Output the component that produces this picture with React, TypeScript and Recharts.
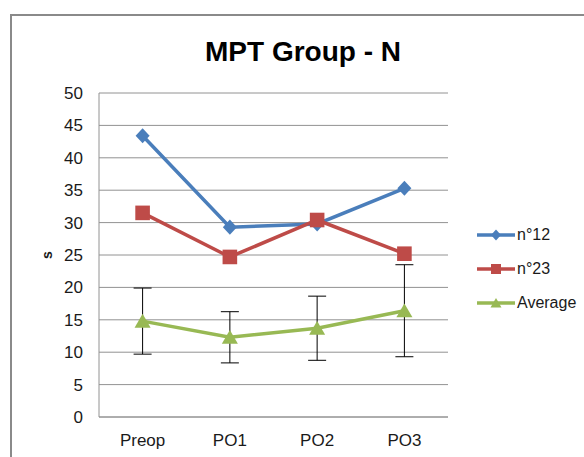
import React from "react";
import { LineChart, Line, XAxis, YAxis, CartesianGrid, ErrorBar } from "recharts";

const CATEGORIES = ["Preop", "PO1", "PO2", "PO3"];
const N12 = [43.4, 29.3, 29.8, 35.3];
const N23 = [31.5, 24.7, 30.4, 25.2];
const AVERAGE = [14.8, 12.3, 13.7, 16.4];
const AVERAGE_ERR = [5.1, 3.95, 4.95, 7.1];
const Y_TICKS = [0, 5, 10, 15, 20, 25, 30, 35, 40, 45, 50];

const BLUE = "#4a7ebb";
const RED = "#be4b48";
const GREEN = "#98b954";
const FONT = "'Liberation Sans', Arial, sans-serif";

const data = CATEGORIES.map((name, i) => ({
  name,
  n12: N12[i],
  n23: N23[i],
  avg: AVERAGE[i],
  avgErr: AVERAGE_ERR[i],
}));

type Shape = "diamond" | "square" | "triangle";

function markerPath(shape: Shape, cx: number, cy: number, s: number) {
  if (shape === "diamond") {
    return `M${cx},${cy - s * 1.08}L${cx + s},${cy}L${cx},${cy + s * 1.08}L${cx - s},${cy}Z`;
  }
  if (shape === "square") {
    return `M${cx - s},${cy - s}H${cx + s}V${cy + s}H${cx - s}Z`;
  }
  return `M${cx},${cy - s}L${cx + s * 1.1},${cy + s * 0.9}L${cx - s * 1.1},${cy + s * 0.9}Z`;
}

const makeDot = (shape: Shape, color: string, size: number) => (props: any) => {
  const { cx, cy, index } = props;
  if (cx == null || cy == null) return <g key={`d-${index}`} />;
  return <path key={`d-${shape}-${index}`} d={markerPath(shape, cx, cy, size)} fill={color} stroke="none" />;
};

const SERIES = [
  { name: "n°12", color: BLUE, shape: "diamond" as Shape },
  { name: "n°23", color: RED, shape: "square" as Shape },
  { name: "Average", color: GREEN, shape: "triangle" as Shape },
];

function ChartLegend() {
  return (
    <div style={{ position: "absolute", left: 474, top: 218, fontFamily: FONT, fontSize: 16, color: "#1a1a1a" }}>
      {SERIES.map((s) => (
        <div key={s.name} style={{ display: "flex", alignItems: "center", height: 34 }}>
          <svg width={43} height={16} style={{ display: "block" }}>
            <line x1={3} y1={8} x2={41} y2={8} stroke={s.color} strokeWidth={3.5} />
            <path d={markerPath(s.shape, 22, 8, 5)} fill={s.color} />
          </svg>
          <span>{s.name}</span>
        </div>
      ))}
    </div>
  );
}

export default function App() {
  return (
    <div style={{ position: "absolute", left: 0, top: 0, width: 584, height: 457, overflow: "hidden", background: "#fff" }}>
      <div
        style={{
          position: "absolute",
          left: 10,
          top: 14,
          width: 700,
          height: 600,
          borderLeft: "2px solid #8a8a8a",
          borderTop: "2px solid #8a8a8a",
        }}
      />
      <div
        style={{
          position: "absolute",
          left: 0,
          width: 606,
          top: 38,
          textAlign: "center",
          fontFamily: FONT,
          fontWeight: "bold",
          fontSize: 28,
          lineHeight: "28px",
          color: "#000",
        }}
      >
        MPT Group - N
      </div>
      <div style={{ position: "absolute", left: 0, top: 0 }}>
        <LineChart width={584} height={457} data={data} margin={{ top: 93, right: 136, bottom: 10, left: 39 }}>
          <CartesianGrid vertical={false} stroke="#929292" />
          <XAxis
            dataKey="name"
            height={30}
            padding={{ left: 43.6, right: 43.6 }}
            tickLine={false}
            tickSize={0}
            tickMargin={17}
            axisLine={{ stroke: "#929292" }}
            tick={{ fontFamily: FONT, fontSize: 17, fill: "#1a1a1a" }}
          />
          <YAxis
            width={60}
            domain={[0, 50]}
            ticks={Y_TICKS}
            interval={0}
            tickLine={false}
            tickSize={0}
            tickMargin={16}
            axisLine={{ stroke: "#929292" }}
            tick={{ fontFamily: FONT, fontSize: 17, fill: "#1a1a1a" }}
            label={{
              content: () => (
                <text
                  x={47}
                  y={255}
                  transform="rotate(-90 47 255)"
                  textAnchor="middle"
                  dominantBaseline="central"
                  fontFamily={FONT}
                  fontWeight="bold"
                  fontSize={14}
                  fill="#1a1a1a"
                >
                  s
                </text>
              ),
            }}
          />
          <Line
            dataKey="n12"
            stroke={BLUE}
            strokeWidth={3.5}
            dot={makeDot("diamond", BLUE, 7)}
            activeDot={false}
            isAnimationActive={false}
          />
          <Line
            dataKey="n23"
            stroke={RED}
            strokeWidth={3.5}
            dot={makeDot("square", RED, 7.3)}
            activeDot={false}
            isAnimationActive={false}
          />
          <Line
            dataKey="avg"
            stroke={GREEN}
            strokeWidth={3.5}
            dot={makeDot("triangle", GREEN, 7.3)}
            activeDot={false}
            isAnimationActive={false}
          >
            <ErrorBar dataKey="avgErr" width={9} stroke="#000" strokeWidth={1} direction="y" isAnimationActive={false} />
          </Line>
        </LineChart>
      </div>
      <ChartLegend />
    </div>
  );
}
